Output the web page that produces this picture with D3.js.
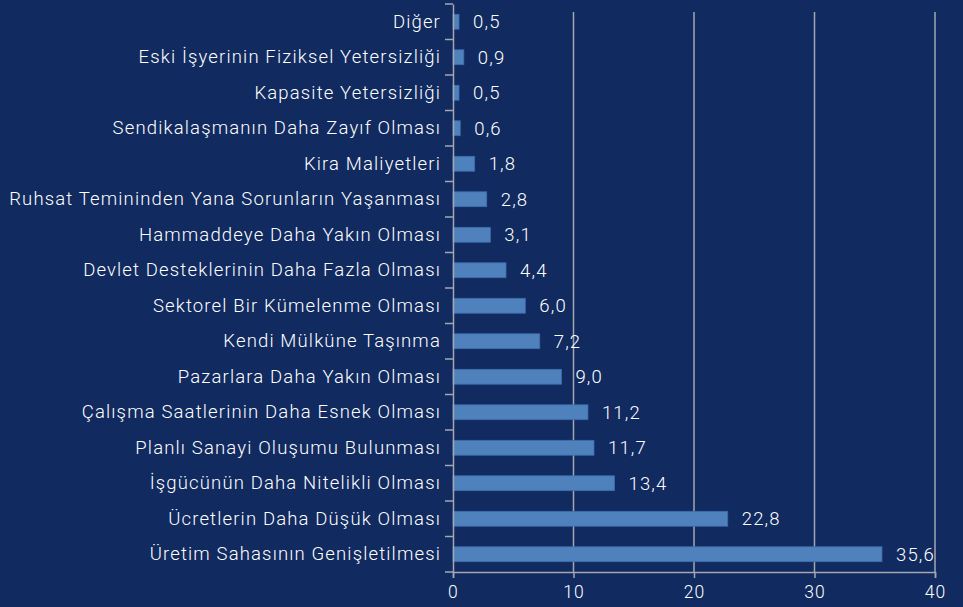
<!DOCTYPE html>
<html><head><meta charset="utf-8">
<script src="https://cdn.jsdelivr.net/npm/d3@7"></script>
<style>
html,body{margin:0;padding:0;background:#112a5f;}
svg{display:block;}
text{font-family:Roboto, "DejaVu Sans", sans-serif;}
</style></head>
<body><svg id="c" width="963" height="607"></svg>
<script>
const categories = ["Diğer","Eski İşyerinin Fiziksel Yetersizliği","Kapasite Yetersizliği","Sendikalaşmanın Daha Zayıf Olması","Kira Maliyetleri","Ruhsat Temininden Yana Sorunların Yaşanması","Hammaddeye Daha Yakın Olması","Devlet Desteklerinin Daha Fazla Olması","Sektorel Bir Kümelenme Olması","Kendi Mülküne Taşınma","Pazarlara Daha Yakın Olması","Çalışma Saatlerinin Daha Esnek Olması","Planlı Sanayi Oluşumu Bulunması","İşgücünün Daha Nitelikli Olması","Ücretlerin Daha Düşük Olması","Üretim Sahasının Genişletilmesi"];
const values = [0.5,0.9,0.5,0.6,1.8,2.8,3.1,4.4,6.0,7.2,9.0,11.2,11.7,13.4,22.8,35.6];
const xTicks = [0,10,20,30,40];

const svg = d3.select("#c");
const mLeft = 453, mRight = 935, mTop = 4, mBottom = 572;
const x = d3.scaleLinear().domain([0,40]).range([mLeft,mRight]);
const y = d3.scaleBand().domain(categories).range([mTop,mBottom]).paddingInner(0.58).paddingOuter(0.29);
const grid = "#a3a7b0";
const FONT = "Roboto, sans-serif";
const LS = "1.15px";
const FS = 18.5;

// gridlines
svg.append("g").selectAll("line").data(xTicks.filter(d=>d>0)).join("line")
  .attr("x1",d=>x(d)).attr("x2",d=>x(d)).attr("y1",mTop+8).attr("y2",mBottom)
  .attr("stroke",grid).attr("stroke-width",1.5);

// bars
svg.append("g").selectAll("rect").data(values).join("rect")
  .attr("x",x(0)).attr("y",(d,i)=>y(categories[i]))
  .attr("width",d=>x(d)-x(0)).attr("height",y.bandwidth())
  .attr("fill","#4f81bd").attr("stroke","#3e6cab").attr("stroke-width",0.8);

// value labels
svg.append("g").selectAll("text").data(values).join("text")
  .attr("x",d=>x(d)+14).attr("y",(d,i)=>y(categories[i])+y.bandwidth()/2)
  .attr("dy","0.36em").attr("fill","#ffffff").attr("font-size",FS)
  .attr("font-weight",300).style("letter-spacing",LS)
  .text(d=>d3.format(".1f")(d).replace(".",","));

// x axis
const xa = svg.append("g").attr("transform",`translate(0,${mBottom})`)
  .call(d3.axisBottom(x).tickValues(xTicks).tickSize(6).tickPadding(8));
xa.select(".domain").attr("stroke",grid).attr("stroke-width",1.5);
xa.selectAll(".tick line").attr("stroke",grid).attr("stroke-width",1.5);
xa.selectAll(".tick text").attr("fill","#ffffff").attr("font-size",17.5).attr("font-family",FONT)
  .attr("font-weight",300).style("letter-spacing",LS);

// y axis
const ya = svg.append("g").attr("transform",`translate(${mLeft},0)`)
  .call(d3.axisLeft(y).tickSize(0).tickPadding(12));
ya.select(".domain").attr("stroke",grid).attr("stroke-width",1.5);
ya.selectAll(".tick text").attr("fill","#ffffff").attr("font-size",FS).attr("font-family",FONT)
  .attr("font-weight",300).style("letter-spacing",LS);
// category separator ticks
const step = (mBottom-mTop)/categories.length;
svg.append("g").selectAll("line").data(d3.range(categories.length+1)).join("line")
  .attr("x1",mLeft-8).attr("x2",mLeft).attr("y1",d=>mTop+d*step).attr("y2",d=>mTop+d*step)
  .attr("stroke",grid).attr("stroke-width",1.5);
</script></body></html>
